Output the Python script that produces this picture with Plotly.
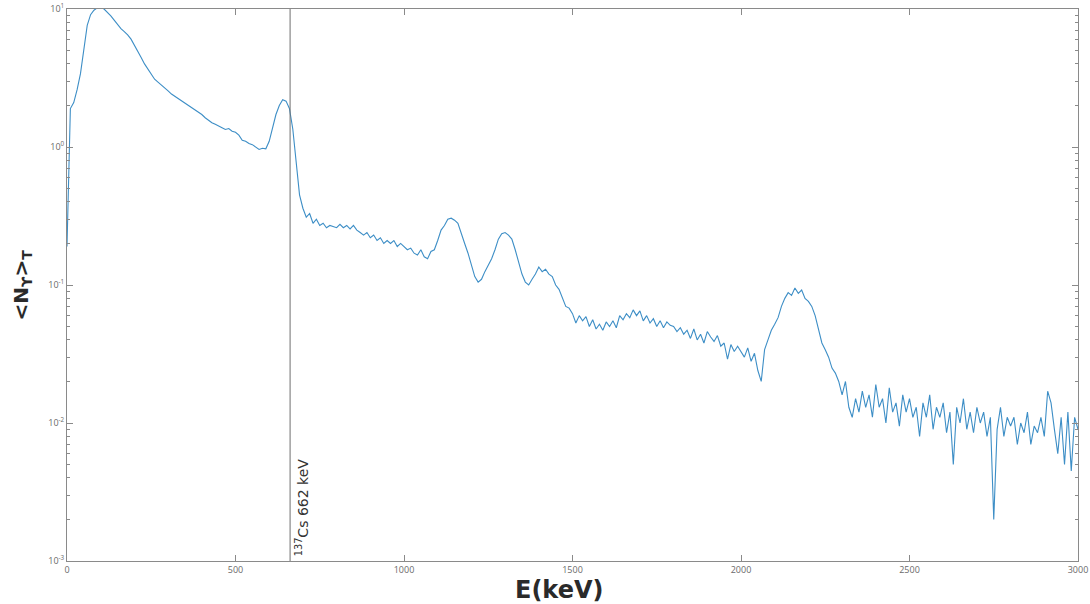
import plotly.graph_objects as go

# Photon spectrum, 10 keV bins from 0 to 3000 keV
energy_kev = list(range(0, 3001, 10))
counts = [
    # 0 - 90
    0.19, 1.9, 2.1, 2.6, 3.4, 5.0, 7.6, 9.1, 9.8, 10.2,
    # 100 - 190
    10.3, 10.0, 9.5, 8.9, 8.3, 7.7, 7.2, 6.85, 6.5, 6.05,
    # 200 - 290
    5.5, 4.95, 4.45, 4.0, 3.7, 3.35, 3.1, 2.95, 2.82, 2.68,
    # 300 - 390
    2.55, 2.42, 2.33, 2.25, 2.16, 2.08, 2.02, 1.94, 1.86, 1.8,
    # 400 - 490
    1.72, 1.63, 1.56, 1.5, 1.46, 1.41, 1.38, 1.34, 1.36, 1.3,
    # 500 - 590
    1.28, 1.22, 1.12, 1.1, 1.06, 1.04, 1.0, 0.96, 0.98, 0.97,
    # 600 - 690
    1.1, 1.4, 1.72, 2.0, 2.2, 2.15, 1.9, 1.35, 0.8, 0.45,
    # 700 - 790
    0.36, 0.31, 0.33, 0.28, 0.3, 0.27, 0.28, 0.26, 0.27, 0.265,
    # 800 - 890
    0.26, 0.275, 0.26, 0.27, 0.255, 0.27, 0.25, 0.24, 0.23, 0.24,
    # 900 - 990
    0.22, 0.23, 0.21, 0.22, 0.2, 0.21, 0.2, 0.21, 0.19, 0.2,
    # 1000 - 1090
    0.19, 0.18, 0.185, 0.17, 0.165, 0.18, 0.16, 0.155, 0.175, 0.18,
    # 1100 - 1190
    0.21, 0.25, 0.27, 0.3, 0.305, 0.295, 0.28, 0.24, 0.2, 0.17,
    # 1200 - 1290
    0.14, 0.115, 0.105, 0.11, 0.125, 0.14, 0.155, 0.18, 0.215, 0.235,
    # 1300 - 1390
    0.24, 0.23, 0.215, 0.18, 0.15, 0.12, 0.105, 0.1, 0.11, 0.12,
    # 1400 - 1490
    0.135, 0.125, 0.13, 0.12, 0.115, 0.1, 0.093, 0.08, 0.07, 0.068,
    # 1500 - 1590
    0.062, 0.053, 0.06, 0.055, 0.059, 0.05, 0.056, 0.048, 0.052, 0.047,
    # 1600 - 1690
    0.054, 0.05, 0.055, 0.049, 0.06, 0.056, 0.062, 0.058, 0.066, 0.06,
    # 1700 - 1790
    0.065, 0.055, 0.06, 0.053, 0.057, 0.05, 0.055, 0.049, 0.054, 0.051,
    # 1800 - 1890
    0.05, 0.046, 0.049, 0.044, 0.047, 0.041, 0.048, 0.04, 0.044, 0.038,
    # 1900 - 1990
    0.046, 0.042, 0.039, 0.043, 0.036, 0.038, 0.029, 0.037, 0.033, 0.036,
    # 2000 - 2090
    0.033, 0.03, 0.035, 0.028, 0.032, 0.024, 0.02, 0.034, 0.04, 0.047,
    # 2100 - 2190
    0.052, 0.058, 0.07, 0.08, 0.088, 0.084, 0.095, 0.087, 0.092, 0.08,
    # 2200 - 2290
    0.076, 0.07, 0.06, 0.047, 0.038, 0.034, 0.03, 0.025, 0.023, 0.02,
    # 2300 - 2390
    0.016, 0.02, 0.013, 0.011, 0.015, 0.012, 0.017, 0.013, 0.016, 0.011,
    # 2400 - 2490
    0.019, 0.013, 0.015, 0.01, 0.018, 0.012, 0.014, 0.0095, 0.016, 0.012,
    # 2500 - 2590
    0.015, 0.011, 0.013, 0.008, 0.014, 0.011, 0.016, 0.009, 0.013, 0.011,
    # 2600 - 2690
    0.014, 0.0085, 0.012, 0.005, 0.013, 0.01, 0.015, 0.009, 0.012, 0.0085,
    # 2700 - 2790
    0.013, 0.01, 0.012, 0.008, 0.011, 0.002, 0.009, 0.013, 0.008, 0.011,
    # 2800 - 2890
    0.0095, 0.011, 0.007, 0.01, 0.0085, 0.012, 0.007, 0.0095, 0.0085, 0.011,
    # 2900 - 3000
    0.008, 0.017, 0.014, 0.009, 0.006, 0.011, 0.005, 0.012, 0.0045, 0.011, 0.009,
]

x_ticks = [0, 500, 1000, 1500, 2000, 2500, 3000]
y_ticks = [1e-3, 1e-2, 1e-1, 1e0, 1e1]
y_tick_text = ["10<sup>-3</sup>", "10<sup>-2</sup>", "10<sup>-1</sup>", "10<sup>0</sup>", "10<sup>1</sup>"]

cs137_line_kev = 662
cs137_label = "<sup>137</sup>Cs 662 keV"

line_color = "#3d8ec6"
axis_color = "#8a8a8a"
tick_font = dict(family="Open Sans, DejaVu Sans, sans-serif", size=9, color="#6a6a6a")

minor_y = [m * 10.0 ** e for e in range(-3, 1) for m in range(2, 10)]

fig = go.Figure()
fig.add_trace(go.Scatter(
    x=energy_kev, y=counts, mode="lines",
    line=dict(color=line_color, width=1.1),
    showlegend=False,
))

fig.add_shape(
    type="line", xref="x", yref="paper",
    x0=cs137_line_kev, x1=cs137_line_kev, y0=0, y1=1,
    line=dict(color="#6e6e6e", width=1),
)

fig.add_annotation(
    text=cs137_label, xref="x", yref="paper",
    x=cs137_line_kev, y=0.005, xanchor="left", yanchor="bottom",
    xshift=1, textangle=-90, showarrow=False,
    font=dict(family="DejaVu Sans, sans-serif", size=14, color="#333333"),
)

fig.add_annotation(
    text="<b>E(keV)</b>", xref="paper", yref="paper",
    x=0.487, y=-0.052, xanchor="center", yanchor="middle",
    showarrow=False,
    font=dict(family="DejaVu Sans, sans-serif", size=24, color="#2a2a2a"),
)

fig.add_annotation(
    text="<b>&lt;N<sub>ϒ</sub>&gt;<sub>T</sub></b>", xref="paper", yref="paper",
    x=-0.045, y=0.5, xanchor="center", yanchor="middle",
    textangle=-90, showarrow=False,
    font=dict(family="DejaVu Sans, sans-serif", size=20, color="#2a2a2a"),
)

fig.update_xaxes(
    range=[0, 3000], tickmode="array", tickvals=x_ticks,
    ticks="inside", ticklen=6, tickcolor=axis_color,
    showline=True, linecolor=axis_color, linewidth=1, mirror="ticks",
    showgrid=False, zeroline=False, tickfont=tick_font, automargin=False,
)
fig.update_yaxes(
    type="log", range=[-3, 1], tickmode="array",
    tickvals=y_ticks, ticktext=y_tick_text,
    ticks="inside", ticklen=6, tickcolor=axis_color,
    minor=dict(tickmode="array", tickvals=minor_y, ticks="inside", ticklen=3,
               tickcolor=axis_color, showgrid=False),
    showline=True, linecolor=axis_color, linewidth=1, mirror="ticks",
    showgrid=False, zeroline=False, tickfont=tick_font, automargin=False,
)

fig.update_layout(
    width=1090, height=604,
    margin=dict(l=67, r=12, t=9, b=43),
    paper_bgcolor="white", plot_bgcolor="white",
)

fig.write_html("out.html")
